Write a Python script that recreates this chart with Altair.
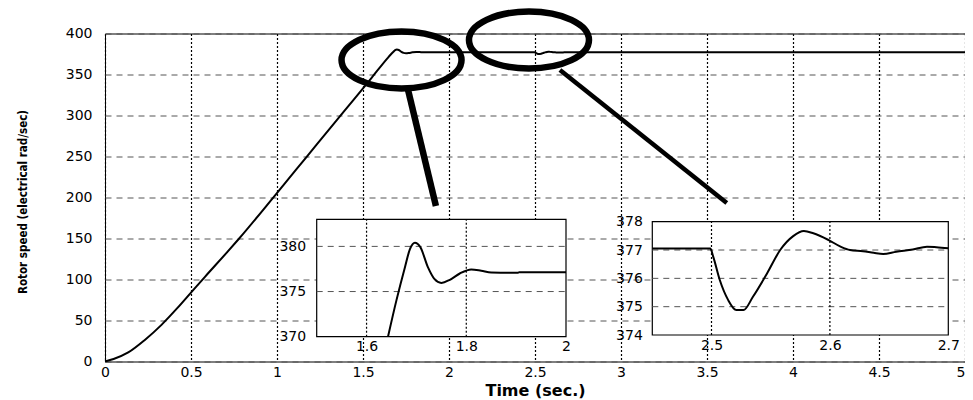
import altair as alt
import pandas as pd

# ---------------- data ----------------
ramp_t = [0, 0.05, 0.135, 0.23, 0.33, 0.42, 0.5, 0.58, 0.713, 0.78, 0.99, 1.17, 1.35, 1.445, 1.55]
ramp_v = [0, 3, 11, 26, 45, 65, 84, 103, 134, 150, 203, 249, 295, 319, 346]

zoom1_t = [1.643, 1.66, 1.677, 1.687, 1.697, 1.708, 1.723, 1.736, 1.75, 1.767, 1.787,
           1.81, 1.83, 1.85, 1.903, 1.906, 2.0]
zoom1_v = [370, 374.05, 377.7, 379.7, 380.4, 379.9, 377.7, 376.4, 375.96, 376.3, 377.0,
           377.45, 377.3, 377.1, 377.07, 377.15, 377.15]

zoom2_t = [2.45, 2.499, 2.5015, 2.507, 2.514, 2.521, 2.527, 2.535, 2.547, 2.558, 2.569,
           2.578, 2.586, 2.599, 2.609, 2.617, 2.628, 2.637, 2.645, 2.656, 2.67, 2.682, 2.69, 2.70]
zoom2_v = [377.05, 377.05, 376.76, 375.94, 375.24, 374.88, 374.88, 375.35, 376.18, 377.0, 377.49,
           377.67, 377.59, 377.35, 377.12, 377.0, 376.96, 376.9, 376.86, 376.94, 377.02, 377.12, 377.1, 377.06]

steady_t = [2.2, 5.0]
steady_v = [377.05, 377.0]

main_x_ticks = [0, 0.5, 1, 1.5, 2, 2.5, 3, 3.5, 4, 4.5, 5]
main_y_ticks = [0, 50, 100, 150, 200, 250, 300, 350, 400]

inset1_xdom = [1.5, 2.0]
inset1_ydom = [370, 383]
inset1_xticks = [1.6, 1.8, 2.0]
inset1_yticks = [370, 375, 380]
inset1_xgrid = [1.6, 1.8]
inset1_ygrid = [375, 380]

inset2_xdom = [2.45, 2.7]
inset2_ydom = [374, 378]
inset2_xticks = [2.5, 2.6, 2.7]
inset2_yticks = [374, 375, 376, 377, 378]
inset2_xgrid = [2.5, 2.6]
inset2_ygrid = [375, 376, 377]

# annotation ellipses and connector lines (in data units of the main plot)
ellipse_t = [1.724, 2.465]
ellipse_v = [367.7, 392.1]
conn_t = [1.762, 2.645]
conn_v = [331.1, 355.5]
conn_t2 = [1.924, 3.615]
conn_v2 = [189.6, 193.3]

# ---------------- chart ----------------
W, H = 860, 328
FONT = "DejaVu Sans"

main_df = pd.DataFrame({"t": ramp_t + zoom1_t + zoom2_t + steady_t,
                        "v": ramp_v + zoom1_v + zoom2_v + steady_v}).sort_values("t")

xs_main = alt.Scale(domain=[0, 5], nice=False, zero=False)
ys_main = alt.Scale(domain=[0, 400], nice=False, zero=False)

main_x_axis = alt.Axis(orient="bottom", values=main_x_ticks, format="~g", grid=True,
                       gridDash=[2, 2], gridColor="black", gridWidth=1.2, ticks=False,
                       domain=False, labelPadding=4, labelFlush=False,
                       labelAlign={"expr": "datum.value >= 5 ? 'right' : 'center'"},
                       title="Time (sec.)", titleFont=FONT, titleFontWeight="bold",
                       titleFontSize=16, titleBaseline="alphabetic", titleY=33.5,
                       titleColor="black")
main_y_axis = alt.Axis(orient="left", values=main_y_ticks, grid=True, gridDash=[6, 5],
                       gridColor="#555", gridWidth=1, ticks=False, domain=False,
                       labelPadding=13, title="Rotor speed (electrical rad/sec)",
                       titleFont="DejaVu Sans Condensed, Liberation Sans", titleFontSize=11.5,
                       titleFontWeight="bold", titleX=-82, titleY=168, titleAlign="center",
                       titleBaseline="middle", titleColor="black")

main_line = alt.Chart(main_df).mark_line(color="black", strokeWidth=2, interpolate="monotone").encode(
    x=alt.X("t:Q", scale=xs_main, axis=main_x_axis),
    y=alt.Y("v:Q", scale=ys_main, axis=main_y_axis),
)

r = 0.475
k = 0.5523
ELLIPSE = (f"M 1 0 C 1 {k*r:.4f} {k:.4f} {r} 0 {r} C {-k:.4f} {r} -1 {k*r:.4f} -1 0 "
           f"C -1 {-k*r:.4f} {-k:.4f} {-r} 0 {-r} C {k:.4f} {-r} 1 {-k*r:.4f} 1 0 Z")

ell_df = pd.DataFrame({"t": ellipse_t, "v": ellipse_v})
ellipses = alt.Chart(ell_df).mark_point(shape=ELLIPSE, size=14400, filled=False,
                                        stroke="black", strokeWidth=6.5, opacity=1).encode(
    x=alt.X("t:Q", scale=xs_main, axis=main_x_axis),
    y=alt.Y("v:Q", scale=ys_main, axis=main_y_axis),
)

conn_df = pd.DataFrame({"id": [0, 1], "t": conn_t, "v": conn_v, "t2": conn_t2, "v2": conn_v2})
conns = []
for i, w in enumerate([6.5, 4.5]):
    conns.append(alt.Chart(conn_df).transform_filter(alt.datum.id == i)
                 .mark_rule(color="black", strokeWidth=w, strokeCap="butt").encode(
        x=alt.X("t:Q", scale=xs_main, axis=main_x_axis),
        y=alt.Y("v:Q", scale=ys_main, axis=main_y_axis),
        x2="t2:Q", y2="v2:Q"))

main = alt.layer(main_line, ellipses, *conns)


def inset(xdom, ydom, xticks, yticks, xgrid, ygrid, ts, vs, xrange, yrange, xoff, yoff, ylabpad):
    sx = alt.Scale(domain=xdom, range=xrange, nice=False, zero=False)
    sy = alt.Scale(domain=ydom, range=yrange, nice=False, zero=False)
    ax = alt.Axis(orient="bottom", offset=xoff, values=xticks, format="~g", grid=False,
                  ticks=False, domain=False, labelPadding=3, labelFlush=False, title=None)
    ay = alt.Axis(orient="left", offset=yoff, values=yticks, format="~g", grid=False,
                  ticks=False, domain=False, labelPadding=ylabpad, title=None)
    box_df = pd.DataFrame({"x0": [xdom[0]], "x1": [xdom[1]], "y0": [ydom[0]], "y1": [ydom[1]]})
    box = alt.Chart(box_df).mark_rect(fill="white", stroke="black", strokeWidth=1.2).encode(
        x=alt.X("x0:Q", scale=sx, axis=ax), x2="x1:Q",
        y=alt.Y("y0:Q", scale=sy, axis=ay), y2="y1:Q")
    hg_df = pd.DataFrame({"y": ygrid, "x0": xdom[0], "x1": xdom[1]})
    hgrid = alt.Chart(hg_df).mark_rule(stroke="#555", strokeDash=[6, 5], strokeWidth=1).encode(
        x=alt.X("x0:Q", scale=sx, axis=ax), x2="x1:Q",
        y=alt.Y("y:Q", scale=sy, axis=ay))
    vg_df = pd.DataFrame({"x": xgrid, "y0": ydom[0], "y1": ydom[1]})
    vgrid = alt.Chart(vg_df).mark_rule(stroke="black", strokeDash=[2, 2], strokeWidth=1.2).encode(
        x=alt.X("x:Q", scale=sx, axis=ax),
        y=alt.Y("y0:Q", scale=sy, axis=ay), y2="y1:Q")
    ldf = pd.DataFrame({"t": ts, "v": vs})
    line = alt.Chart(ldf).mark_line(color="black", strokeWidth=2, interpolate="monotone").encode(
        x=alt.X("t:Q", scale=sx, axis=ax),
        y=alt.Y("v:Q", scale=sy, axis=ay))
    return alt.layer(box, hgrid, vgrid, line)


inset1 = inset(inset1_xdom, inset1_ydom, inset1_xticks, inset1_yticks, inset1_xgrid, inset1_ygrid,
               zoom1_t, zoom1_v, [211.7, 461], [303.2, 185.8], -24.8, -211.7, 11)
inset2 = inset(inset2_xdom, inset2_ydom, inset2_xticks, inset2_yticks, inset2_xgrid, inset2_ygrid,
               zoom2_t, zoom2_v, [547.3, 843.3], [301.5, 188.2], -26.5, -547.3, 10)

chart = alt.layer(main, inset1, inset2).resolve_scale(
    x="independent", y="independent"
).properties(
    width=W, height=H,
    autosize=alt.AutoSizeParams(type="none"),
    padding={"left": 97, "top": 25.5, "right": 0, "bottom": 38.5},
    background="white",
).configure_view(
    stroke="black", strokeWidth=1
).configure_axis(
    labelFont=FONT, labelFontSize=14, labelColor="black"
)

chart.save("out.html", embed_options={"renderer": "svg", "actions": False})
